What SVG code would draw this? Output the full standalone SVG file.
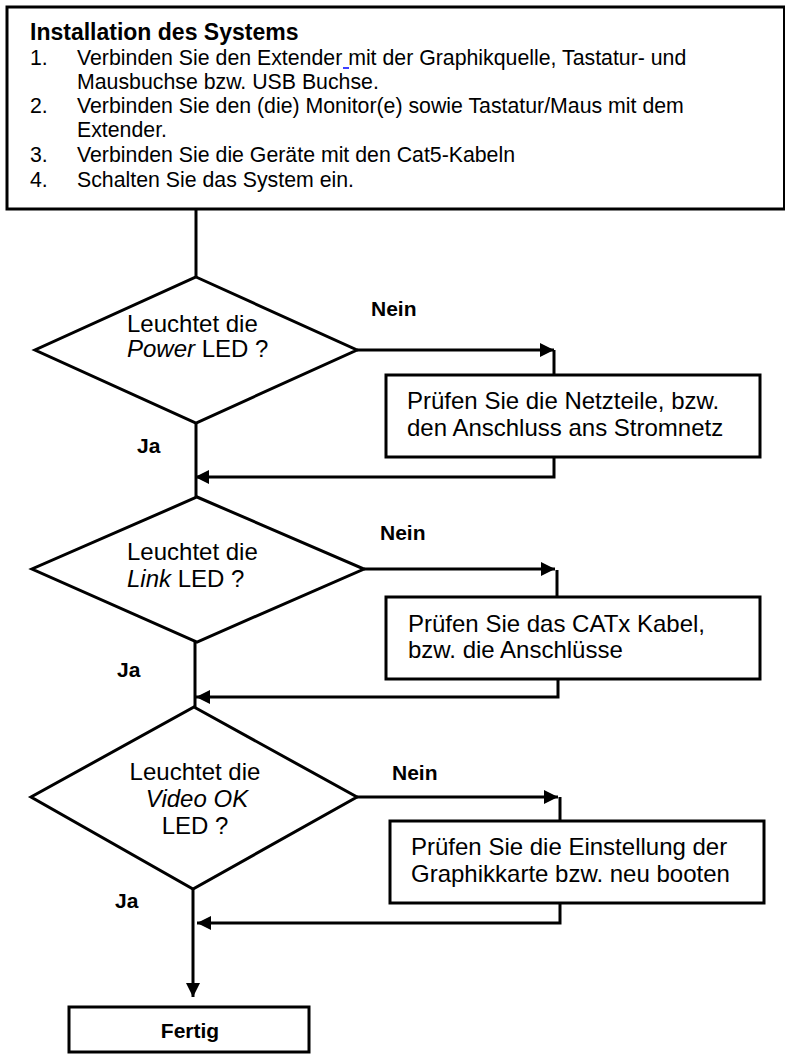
<svg xmlns="http://www.w3.org/2000/svg" width="785" height="1055" viewBox="0 0 785 1055">
<style>
text{font-family:"Liberation Sans",Arial,Helvetica,sans-serif;fill:#000}
.t{font-size:21.3px}
.h{font-size:23px;font-weight:bold}
.d{font-size:24px}
.l{font-size:21px;font-weight:bold}
.shape{fill:#fff;stroke:#000;stroke-width:3}
.c{fill:none;stroke:#000;stroke-width:3}
</style>
<defs>
<marker id="ah" viewBox="0 0 14 14" refX="14" refY="7" markerWidth="14" markerHeight="14" markerUnits="userSpaceOnUse" orient="auto">
<path d="M0,0 L14,7 L0,14 Z" fill="#000"/>
</marker>
</defs>
<rect width="785" height="1055" fill="#fff"/>

<g id="connectors">
<path class="c" d="M196,209 V277"/>
<path class="c" d="M357,350 H554" marker-end="url(#ah)"/>
<path class="c" d="M554,350 V375"/>
<path class="c" d="M554,457 V477 H195" marker-end="url(#ah)"/>
<path class="c" d="M196,423 V497"/>
<path class="c" d="M364,569 H555" marker-end="url(#ah)"/>
<path class="c" d="M557,570 V597"/>
<path class="c" d="M558,679 V697 H196" marker-end="url(#ah)"/>
<path class="c" d="M195,642 V707"/>
<path class="c" d="M357,797 H558" marker-end="url(#ah)"/>
<path class="c" d="M560,797 V821"/>
<path class="c" d="M560,903 V923 H197" marker-end="url(#ah)"/>
<path class="c" d="M193,889 V997" marker-end="url(#ah)"/>
</g>

<g id="install">
<rect class="shape" x="7" y="7" width="777.5" height="202"/>
<text class="h" x="30" y="40">Installation des Systems</text>
<text class="t" x="30" y="65">1.</text>
<text class="t" x="77" y="65">Verbinden Sie den Extender mit der Graphikquelle, Tastatur- und</text>
<line x1="343" y1="68" x2="349" y2="68" stroke="#0000ff" stroke-width="1.5"/>
<text class="t" x="77" y="89">Mausbuchse bzw. USB Buchse.</text>
<text class="t" x="30" y="113">2.</text>
<text class="t" x="77" y="113">Verbinden Sie den (die) Monitor(e) sowie Tastatur/Maus mit dem</text>
<text class="t" x="77" y="137">Extender.</text>
<text class="t" x="30" y="162">3.</text>
<text class="t" x="77" y="162">Verbinden Sie die Geräte mit den Cat5-Kabeln</text>
<text class="t" x="30" y="187">4.</text>
<text class="t" x="77" y="187">Schalten Sie das System ein.</text>
</g>

<g id="power">
<polygon class="shape" points="196,277 357,350 196,423 35,350"/>
<text class="d" x="127" y="332">Leuchtet die</text>
<text class="d" x="127" y="357"><tspan font-style="italic">Power</tspan> LED ?</text>
</g>
<g id="power-nein"><text class="l" x="371" y="316">Nein</text></g>
<g id="power-ja"><text class="l" x="137" y="453">Ja</text></g>
<g id="check-power">
<rect class="shape" x="386" y="375" width="374" height="82"/>
<text class="d" x="407" y="409">Prüfen Sie die Netzteile, bzw.</text>
<text class="d" x="407" y="436">den Anschluss ans Stromnetz</text>
</g>

<g id="link">
<polygon class="shape" points="197,497 364,569 197,642 32,569"/>
<text class="d" x="127" y="560">Leuchtet die</text>
<text class="d" x="127" y="587"><tspan font-style="italic">Link</tspan> LED ?</text>
</g>
<g id="link-nein"><text class="l" x="380" y="540">Nein</text></g>
<g id="link-ja"><text class="l" x="117" y="677">Ja</text></g>
<g id="check-link">
<rect class="shape" x="386" y="597" width="374" height="82"/>
<text class="d" x="408" y="632">Prüfen Sie das CATx Kabel,</text>
<text class="d" x="408" y="658">bzw. die Anschlüsse</text>
</g>

<g id="video">
<polygon class="shape" points="194,707 357,797 193,889 31,797"/>
<text class="d" x="195" y="780" text-anchor="middle">Leuchtet die</text>
<text class="d" x="197" y="807" text-anchor="middle" font-style="italic">Video OK</text>
<text class="d" x="195" y="834" text-anchor="middle">LED ?</text>
</g>
<g id="video-nein"><text class="l" x="392" y="780">Nein</text></g>
<g id="video-ja"><text class="l" x="115" y="908">Ja</text></g>
<g id="check-video">
<rect class="shape" x="390" y="821" width="374" height="82"/>
<text class="d" x="411" y="855">Prüfen Sie die Einstellung der</text>
<text class="d" x="411" y="882">Graphikkarte bzw. neu booten</text>
</g>

<g id="fertig">
<rect class="shape" x="69" y="1007" width="240" height="45"/>
<text class="l" x="190" y="1038" text-anchor="middle">Fertig</text>
</g>
</svg>
